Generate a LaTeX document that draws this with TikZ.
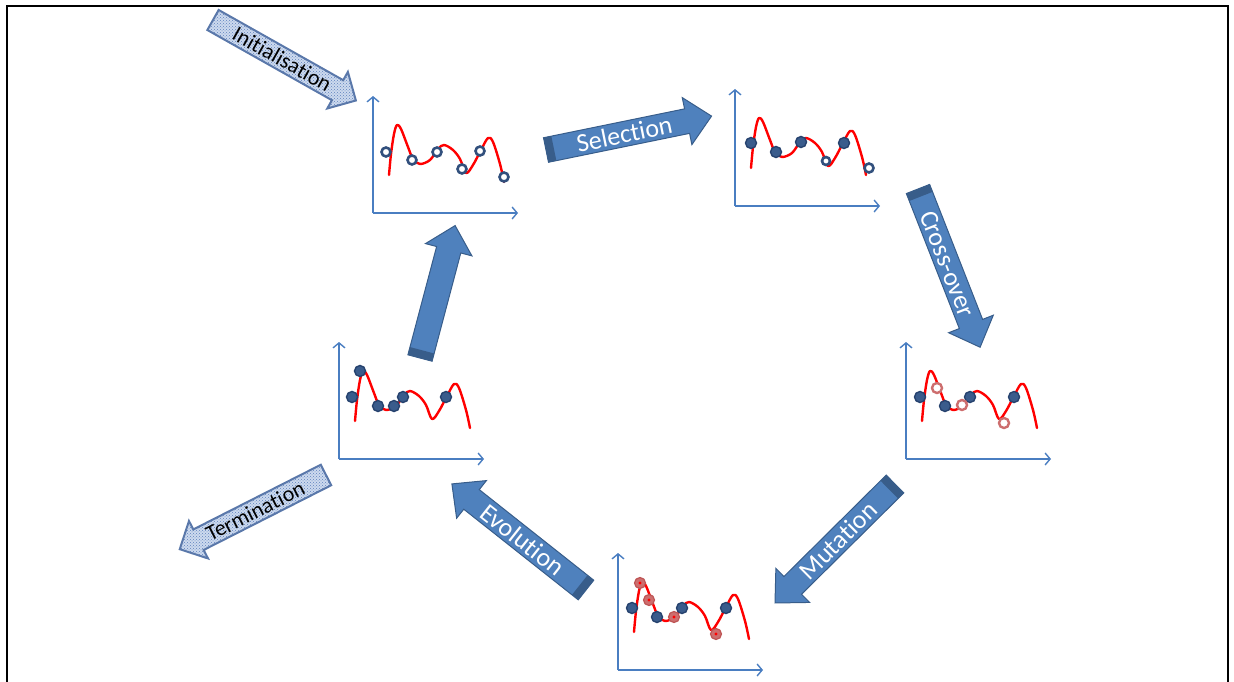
\documentclass[tikz,border=0pt]{standalone}
\usepackage{fontspec}
\setmainfont{Carlito}[RawFeature={-liga}]
\usetikzlibrary{arrows.meta,patterns}
\definecolor{arrfill}{RGB}{79,129,189}
\definecolor{arrdark}{RGB}{56,93,138}
\definecolor{axisblue}{RGB}{74,126,193}
\definecolor{ptblue}{RGB}{58,92,140}
\definecolor{ptbluedark}{RGB}{38,66,110}
\definecolor{ringblue}{RGB}{50,80,125}
\definecolor{ptred}{RGB}{205,110,110}
\definecolor{ptreddark}{RGB}{190,85,85}
\definecolor{initfill}{RGB}{205,218,238}
\definecolor{initpat}{RGB}{95,130,190}
\definecolor{initedge}{RGB}{90,120,170}
\tikzset{
  axisline/.style={draw=axisblue, line width=1.4pt, -{Straight Barb[length=5pt,width=12pt]}},
  curveline/.style={draw=red, line width=2.4pt, line cap=round, line join=round},
  ringpt/.style={draw=ringblue, line width=2.6pt, fill=white},
  dotpt/.style={draw=ptbluedark, line width=1.4pt, fill=ptblue},
  redring/.style={draw=ptred, line width=2.4pt, fill=white},
  reddot/.style={draw=ptreddark, line width=1.2pt, fill=ptred},
  solidarr/.style={fill=arrfill, draw=arrdark, line width=1pt, line join=miter},
  patarr/.style={fill=initfill, postaction={pattern=crosshatch dots, pattern color=initpat}},
  patedge/.style={draw=initedge, line width=2pt, line join=miter},
  arrtext/.style={text=white, font=\fontsize{26}{28}\selectfont, inner sep=0pt},
  pattext/.style={text=black, font=\fontsize{22}{24}\selectfont, inner sep=0pt},
  frameline/.style={draw=black, line width=2pt}
}
% #1 name, #2 tail centre, #3 angle, #4 length, #5 text, #6 text angle
\newcommand{\solidarrow}[6]{%
  \begin{scope}[shift={(#2)}, rotate=#3]
    \path[solidarr] (0,-12.5) -- ({#4-25},-12.5) -- ({#4-25},-24) -- (#4,0) -- ({#4-25},24) -- ({#4-25},12.5) -- (0,12.5) -- cycle;
    \fill[arrdark] (0,-12.5) -- (8,-12.5) -- (8,12.5) -- (0,12.5) -- cycle;
    \node[arrtext, rotate=#6] (#1) at ({(#4-25)/2+8},0) {#5};
  \end{scope}}
\newcommand{\patarrow}[6]{%
  \begin{scope}[shift={(#2)}, rotate=#3]
    \path[patarr] (0,-11.5) -- ({#4-21},-11.5) -- ({#4-21},-21) -- (#4,0) -- ({#4-21},21) -- ({#4-21},11.5) -- (0,11.5) -- cycle;
    \path[patedge] (0,-11.5) -- ({#4-21},-11.5) -- ({#4-21},-21) -- (#4,0) -- ({#4-21},21) -- ({#4-21},11.5) -- (0,11.5) -- cycle;
    \node[pattext, rotate=#6] (#1) at ({(#4-21)/2+8},0) {#5};
  \end{scope}}
% #1 origin, #2 points
\newcommand{\gaplot}[2]{%
  \begin{scope}[shift={(#1)}]
    \draw[axisline] (0,0) -- (0,-117);
    \draw[axisline] (0,0) -- (145,0);
    \draw[curveline] plot[smooth, tension=0.55] coordinates {(16,-38) (18,-59) (21,-79) (24,-88) (28,-84) (35,-66) (40,-54) (47,-49) (57,-53) (65,-64) (71,-68) (80,-63) (87,-54) (93,-40) (100,-48) (108,-63) (115,-75) (120,-71) (127,-49) (131,-31)};
    #2
  \end{scope}}
\begin{document}
\begin{tikzpicture}[x=1pt, y=-1pt]
\useasboundingbox (0,0) rectangle (1234,682);
\draw[frameline] (7,682) -- (7,6) -- (1228,6) -- (1228,682);

% plot 1: initial population
\gaplot{373,213}{
  \path[ringpt] (13,-61) circle (4.5);
  \path[ringpt] (39,-53) circle (4.5);
  \path[ringpt] (64,-61) circle (4.5);
  \path[ringpt] (89,-44) circle (4.5);
  \path[ringpt] (107,-62) circle (4.5);
  \path[ringpt] (131,-36) circle (4.5);
}
% plot 2: selection
\gaplot{735,206}{
  \path[dotpt] (16,-63) circle (5.5);
  \path[dotpt] (41,-54) circle (5.5);
  \path[dotpt] (66,-64) circle (5.5);
  \path[dotpt] (109,-63) circle (5.5);
  \path[ringpt] (91,-45) circle (4);
  \path[ringpt] (134,-38) circle (4.5);
}
% plot 3: cross-over
\gaplot{906,459}{
  \path[dotpt] (14,-62) circle (5.5);
  \path[dotpt] (39,-53) circle (5.5);
  \path[dotpt] (64,-62) circle (5.5);
  \path[dotpt] (108,-62) circle (5.5);
  \path[redring] (31,-71) circle (5);
  \path[redring] (56,-54) circle (5);
  \path[redring] (98,-36) circle (5);
}
% plot 4: mutation
\gaplot{618,670}{
  \path[dotpt] (14,-62) circle (5.5);
  \path[dotpt] (39,-53) circle (5.5);
  \path[dotpt] (64,-62) circle (5.5);
  \path[dotpt] (108,-62) circle (5.5);
  \path[reddot] (22,-87) circle (5.5);
  \path[reddot] (31,-70) circle (5.5);
  \path[reddot] (56,-53) circle (5.5);
  \path[reddot] (98,-36) circle (5.5);
  \fill[red] (22,-87) circle (1.6);
  \fill[red] (31,-70) circle (1.6);
  \fill[red] (56,-53) circle (1.6);
  \fill[red] (98,-36) circle (1.6);
}
% plot 5: evolution
\gaplot{339,459}{
  \path[dotpt] (13,-62) circle (5.5);
  \path[dotpt] (21,-88) circle (5.5);
  \path[dotpt] (39,-53) circle (5.5);
  \path[dotpt] (55,-53) circle (5.5);
  \path[dotpt] (64,-62) circle (5.5);
  \path[dotpt] (107,-62) circle (5.5);
}

% block arrows
\solidarrow{sel}{546,150}{11.57}{169}{Selection}{11.57}
\solidarrow{cross}{918,189}{-68.57}{170}{Cross-over}{-68.57}
\solidarrow{mut}{895,484}{-135.24}{169}{Mutation}{44.76}
\solidarrow{evo}{586,590}{141.65}{171}{Evolution}{-38.35}
\solidarrow{up}{420,358}{75.15}{137}{}{0}
\patarrow{init}{213,20}{-29.4}{164}{Initialisation}{-29.4}
\patarrow{term}{326,475}{206.9}{164}{Termination}{26.9}
\end{tikzpicture}
\end{document}
